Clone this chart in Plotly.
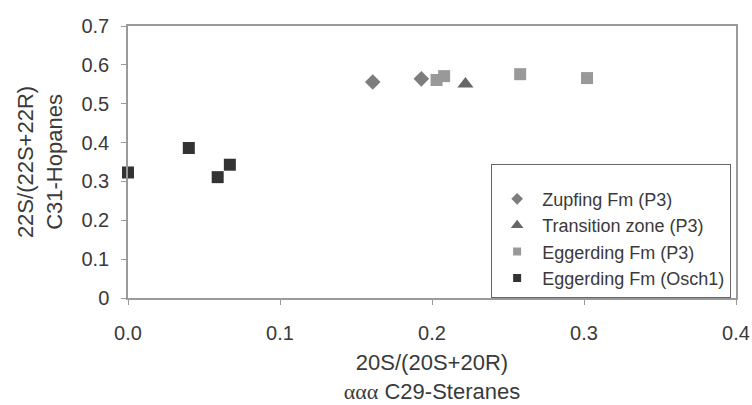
import plotly.graph_objects as go

# Sterane vs hopane isomerisation ratios
zupfing_x = [0.161, 0.193]
zupfing_y = [0.556, 0.564]

transition_x = [0.222]
transition_y = [0.551]

egg_p3_x = [0.203, 0.208, 0.258, 0.302]
egg_p3_y = [0.561, 0.571, 0.576, 0.566]

egg_osch_x = [0.000, 0.040, 0.059, 0.067]
egg_osch_y = [0.323, 0.386, 0.311, 0.343]

series_names = ["Zupfing Fm (P3)", "Transition zone (P3)",
                "Eggerding Fm (P3)", "Eggerding Fm (Osch1)"]

x_ticks = [0.0, 0.1, 0.2, 0.3, 0.4]
y_ticks = [0, 0.1, 0.2, 0.3, 0.4, 0.5, 0.6, 0.7]

FONT = "Liberation Sans, Arial, sans-serif"
TEXT = "#3a3a3a"
AXIS = "#9a9a9a"

styles = [
    dict(symbol="diamond", color="#7d7d7d", size=12, lsize=9),
    dict(symbol="triangle-up", color="#666666", size=14, lsize=11),
    dict(symbol="square", color="#999999", size=12, lsize=8),
    dict(symbol="square", color="#333333", size=12, lsize=8),
]
data = [(zupfing_x, zupfing_y), (transition_x, transition_y),
        (egg_p3_x, egg_p3_y), (egg_osch_x, egg_osch_y)]

fig = go.Figure()
for name, (xs, ys), st in zip(series_names, data, styles):
    fig.add_trace(go.Scatter(
        x=xs, y=ys, mode="markers", name=name, showlegend=False,
        cliponaxis=False,
        marker=dict(symbol=st["symbol"], color=st["color"], size=st["size"],
                    line=dict(width=0)),
    ))
# legend entries with smaller glyphs
for name, st in zip(series_names, styles):
    fig.add_trace(go.Scatter(
        x=[None], y=[None], mode="markers", name=name, showlegend=True,
        marker=dict(symbol=st["symbol"], color=st["color"], size=st["lsize"]),
    ))

fig.update_layout(
    width=752, height=405,
    margin=dict(l=128, r=16, t=26, b=107, autoexpand=False),
    paper_bgcolor="white", plot_bgcolor="white",
    font=dict(family=FONT, color=TEXT, size=20),
    showlegend=True,
    legend=dict(
        x=0.992, xanchor="right", y=0, yanchor="bottom",
        bgcolor="white", bordercolor="#666666", borderwidth=1,
        font=dict(family=FONT, size=18, color=TEXT),
        itemsizing="trace", tracegroupgap=0,
        title=dict(text=" ", font=dict(size=12)),
        itemwidth=40,
    ),
    xaxis=dict(
        range=[0, 0.4], tickvals=x_ticks, tickformat=".1f",
        showgrid=False, zeroline=False, automargin=False,
        showline=True, linecolor=AXIS, linewidth=1.5, mirror=True,
        ticks="outside", ticklen=5, tickcolor=AXIS,
        ticklabelstandoff=11,
        title=dict(
            text="20S/(20S+20R)<br><span style=\"font-family:'Liberation Serif', serif\">ααα</span> C29-Steranes",
            font=dict(size=22, family=FONT, color=TEXT), standoff=12,
        ),
    ),
    yaxis=dict(
        range=[0, 0.7], tickvals=y_ticks,
        showgrid=False, zeroline=False, automargin=False,
        showline=True, linecolor=AXIS, linewidth=1.5, mirror=True,
        ticks="outside", ticklen=5, tickcolor=AXIS,
        ticklabelstandoff=8,
        title=dict(
            text="22S/(22S+22R)<br>C31-Hopanes",
            font=dict(size=22, family=FONT, color=TEXT), standoff=13,
        ),
    ),
)

fig.write_html("out.html")
